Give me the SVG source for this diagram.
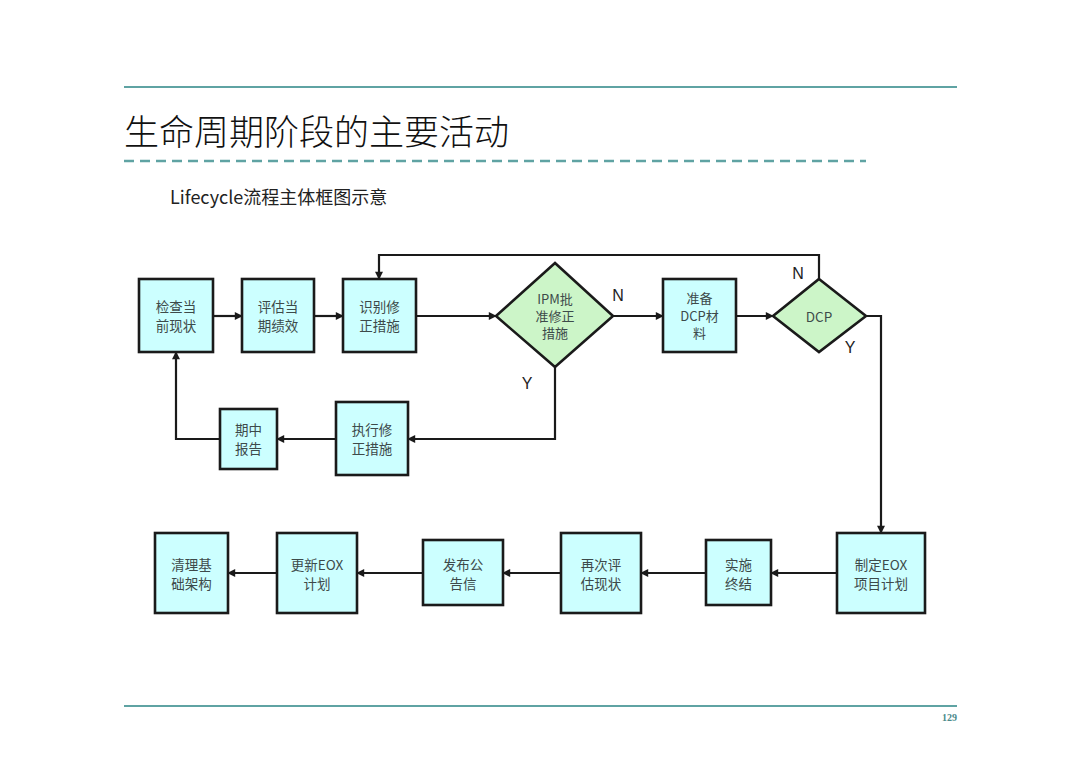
<svg xmlns="http://www.w3.org/2000/svg" width="1080" height="761" viewBox="0 0 1080 761">
<defs>
<marker id="arr" viewBox="0 0 10 10" refX="9" refY="5" markerWidth="9" markerHeight="8" markerUnits="userSpaceOnUse" orient="auto">
<path d="M0,0 L10,5 L0,10 z" fill="#1a1a1a"/>
</marker>
</defs>
<style>
.box{fill:#ccffff;stroke:#1a1a1a;stroke-width:2.6}
.dia{fill:#ccf5c8;stroke:#1a1a1a;stroke-width:2.6}
.t{font-family:"Noto Sans CJK SC","Liberation Sans",sans-serif;font-size:13.5px;fill:#3d4a4a;text-anchor:middle;dominant-baseline:central}
.s{font-size:13px}
.lbl{font-family:"Liberation Sans","Noto Sans CJK SC",sans-serif;font-size:16px;fill:#222;text-anchor:middle;dominant-baseline:central}
.c{fill:none;stroke:#1a1a1a;stroke-width:2.2;marker-end:url(#arr)}
</style>
<rect width="1080" height="761" fill="#ffffff"/>
<line x1="124" y1="87" x2="957" y2="87" stroke="#5fa3a3" stroke-width="2"/>
<text x="124" y="145" font-family="Noto Sans CJK SC,sans-serif" font-size="35" font-weight="300" fill="#111">生命周期阶段的主要活动</text>
<line x1="124" y1="161" x2="866" y2="161" stroke="#5fa3a3" stroke-width="2.5" stroke-dasharray="10 6"/>
<text x="170" y="204" font-family="Noto Sans CJK SC,sans-serif" font-size="18" fill="#222">Lifecycle流程主体框图示意</text>
<line x1="124" y1="706" x2="957" y2="706" stroke="#5fa3a3" stroke-width="2"/>
<text x="957" y="721" font-family="Liberation Serif,serif" font-size="10" font-weight="bold" fill="#4a8a8a" text-anchor="end">129</text>

<g id="connectors">
<path class="c" d="M213,316 H242"/>
<path class="c" d="M314,316 H343"/>
<path class="c" d="M416,316 H496"/>
<path class="c" d="M613,316 H663"/>
<path class="c" d="M736,316 H773"/>
<path class="c" d="M819,279 V255 H379 V279"/>
<path class="c" d="M866,316 H881 V533"/>
<path class="c" d="M555,367 V439 H408"/>
<path class="c" d="M336,439 H277"/>
<path class="c" d="M220,439 H176 V352"/>
<path class="c" d="M837,573 H771"/>
<path class="c" d="M706,573 H641"/>
<path class="c" d="M561,573 H503"/>
<path class="c" d="M423,573 H357"/>
<path class="c" d="M277,573 H228"/>
<text class="lbl" x="618" y="295">N</text>
<text class="lbl" x="798" y="273">N</text>
<text class="lbl" x="850" y="347">Y</text>
<text class="lbl" x="527" y="383">Y</text>
</g>

<g id="n1"><rect class="box" x="139" y="279" width="74" height="73"/><text class="t" x="176" y="306">检查当</text><text class="t" x="176" y="325">前现状</text></g>
<g id="n2"><rect class="box" x="242" y="279" width="72" height="73"/><text class="t" x="278" y="306">评估当</text><text class="t" x="278" y="325">期绩效</text></g>
<g id="n3"><rect class="box" x="343" y="279" width="73" height="73"/><text class="t" x="379.5" y="306">识别修</text><text class="t" x="379.5" y="325">正措施</text></g>
<g id="n4"><polygon class="dia" points="555,263 613,316 555,367 496,316"/><text class="t s" x="555" y="298">IPM批</text><text class="t s" x="555" y="315">准修正</text><text class="t s" x="555" y="332">措施</text></g>
<g id="n5"><rect class="box" x="663" y="279" width="73" height="73"/><text class="t s" x="699.5" y="297">准备</text><text class="t s" x="699.5" y="315">DCP材</text><text class="t s" x="699.5" y="332">料</text></g>
<g id="n6"><polygon class="dia" points="819,279 866,316 819,352 773,316"/><text class="t" x="819" y="316">DCP</text></g>
<g id="n7"><rect class="box" x="336" y="402" width="72" height="73"/><text class="t" x="372" y="429">执行修</text><text class="t" x="372" y="448">正措施</text></g>
<g id="n8"><rect class="box" x="220" y="409" width="57" height="60"/><text class="t" x="248.5" y="429">期中</text><text class="t" x="248.5" y="448">报告</text></g>
<g id="n9"><rect class="box" x="837" y="533" width="88" height="80"/><text class="t" x="881" y="564">制定EOX</text><text class="t" x="881" y="583">项目计划</text></g>
<g id="n10"><rect class="box" x="706" y="540" width="65" height="65"/><text class="t" x="738.5" y="564">实施</text><text class="t" x="738.5" y="583">终结</text></g>
<g id="n11"><rect class="box" x="561" y="533" width="80" height="80"/><text class="t" x="601" y="564">再次评</text><text class="t" x="601" y="583">估现状</text></g>
<g id="n12"><rect class="box" x="423" y="540" width="80" height="65"/><text class="t" x="463" y="564">发布公</text><text class="t" x="463" y="583">告信</text></g>
<g id="n13"><rect class="box" x="277" y="533" width="80" height="80"/><text class="t" x="317" y="564">更新EOX</text><text class="t" x="317" y="583">计划</text></g>
<g id="n14"><rect class="box" x="155" y="533" width="73" height="80"/><text class="t" x="191.5" y="564">清理基</text><text class="t" x="191.5" y="583">础架构</text></g>
</svg>
